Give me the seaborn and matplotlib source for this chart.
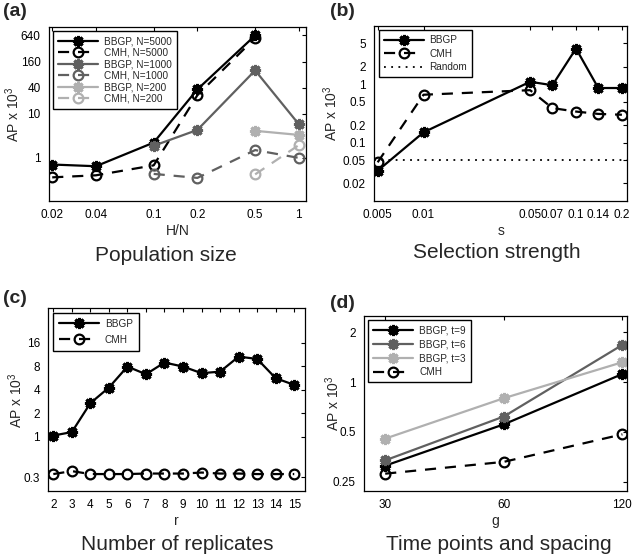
import numpy as np
import pandas as pd
import seaborn as sns
import matplotlib
matplotlib.use("Agg")
import matplotlib.pyplot as plt
from matplotlib.ticker import FixedLocator, FixedFormatter, NullLocator

# ---------------- data ----------------
# (a) Population size
a_x = [0.02, 0.04, 0.1, 0.2, 0.5, 1]
a_bbgp_5000 = [0.69, 0.63, 2.2, 36.7, 635]
a_cmh_5000 = [0.35, 0.39, 0.66, 27, 555]
a_x_1000 = [0.1, 0.2, 0.5, 1]
a_bbgp_1000 = [1.86, 4.3, 100, 5.8]
a_cmh_1000 = [0.42, 0.34, 1.48, 0.98]
a_x_200 = [0.5, 1]
a_bbgp_200 = [4.1, 3.3]
a_cmh_200 = [0.41, 1.93]
a_yticks = [1, 10, 40, 160, 640]

# (b) Selection strength
b_x = [0.005, 0.01, 0.05, 0.07, 0.1, 0.14, 0.2]
b_bbgp = [0.033, 0.15, 1.1, 0.96, 4.07, 0.86, 0.86]
b_cmh = [0.046, 0.66, 0.79, 0.39, 0.34, 0.31, 0.30]
b_random = 0.05
b_yticks = [0.02, 0.05, 0.1, 0.2, 0.5, 1, 2, 5]

# (c) Number of replicates
c_x = list(range(2, 16))
c_bbgp = [1.03, 1.14, 2.68, 4.25, 7.9, 6.3, 8.9, 7.9, 6.5, 6.8, 10.6, 9.9, 5.6, 4.6]
c_cmh = [0.33, 0.36, 0.33, 0.33, 0.33, 0.335, 0.335, 0.335, 0.345, 0.335, 0.335, 0.33, 0.33, 0.33]
c_yticks = [0.3, 1, 2, 4, 8, 16]

# (d) Time points and spacing
d_x = [30, 60, 120]
d_bbgp_t9 = [0.313, 0.556, 1.12]
d_bbgp_t6 = [0.337, 0.62, 1.68]
d_bbgp_t3 = [0.456, 0.80, 1.32]
d_cmh = [0.28, 0.33, 0.484]
d_yticks = [0.25, 0.5, 1, 2]

# ---------------- style ----------------
sns.set_theme(style="white")
plt.rcParams['font.family'] = ['Liberation Sans', 'DejaVu Sans']
plt.rcParams['mathtext.fontset'] = 'custom'
plt.rcParams['mathtext.rm'] = 'Liberation Sans'
plt.rcParams['mathtext.it'] = 'Liberation Sans:italic'
plt.rcParams['mathtext.bf'] = 'Liberation Sans:bold'

BLACK = '#000000'
DARK = '#606060'
LIGHT = '#b0b0b0'
STAR = (8, 2, 0)

fig = plt.figure(figsize=(6.33, 5.60), dpi=100)
ax_a = fig.add_axes([0.0774, 0.641, 0.406, 0.311])
ax_b = fig.add_axes([0.591, 0.641, 0.400, 0.313])
ax_c = fig.add_axes([0.0763, 0.1232, 0.4055, 0.326])
ax_d = fig.add_axes([0.575, 0.1232, 0.416, 0.313])


def draw(ax, x, y, label, color, dashed, star):
    df = pd.DataFrame({'x': x, 'y': y})
    if star:
        kw = dict(marker=STAR, markersize=8, markeredgewidth=2.2,
                  markeredgecolor=color, markerfacecolor=color)
    else:
        kw = dict(marker='o', markersize=7, markeredgewidth=1.6,
                  markeredgecolor=color, markerfacecolor='none')
    kw.update(linewidth=1.6, color=color, label=label)
    if dashed:
        kw['dashes'] = (5, 4)
    sns.lineplot(data=df, x='x', y='y', ax=ax, **kw)


def style_axes(ax, xticks, xlabels, yticks, ylabels, xlim, ylim, xlabel, logx, ylab_x):
    if logx:
        ax.set_xscale('log')
    ax.set_yscale('log')
    ax.set_xlim(*xlim)
    ax.set_ylim(*ylim)
    ax.xaxis.set_major_locator(FixedLocator(xticks))
    ax.xaxis.set_major_formatter(FixedFormatter(xlabels))
    ax.yaxis.set_major_locator(FixedLocator(yticks))
    ax.yaxis.set_major_formatter(FixedFormatter(ylabels))
    ax.xaxis.set_minor_locator(NullLocator())
    ax.yaxis.set_minor_locator(NullLocator())
    ax.tick_params(direction='in', length=3, width=0.8, top=True, right=True,
                   labelsize=8.5, colors='black', pad=6)
    for s in ax.spines.values():
        s.set_visible(True)
        s.set_color('black')
        s.set_linewidth(0.9)
    ax.set_xlabel(xlabel, fontsize=10, labelpad=2)
    ax.set_ylabel('AP x 10$^3$', fontsize=10)
    ax.yaxis.set_label_coords(ylab_x, 0.5)


def legend(ax, spacing=0.15, pad=0.5):
    leg = ax.legend(loc='upper left', fontsize=7.2, handlelength=4.0, frameon=True,
                    fancybox=False, edgecolor='black', framealpha=1,
                    borderpad=pad, labelspacing=spacing, handletextpad=0.6,
                    borderaxespad=0.45)
    leg.get_frame().set_linewidth(1.0)


# (a)
draw(ax_a, a_x[:5], a_bbgp_5000, 'BBGP, N=5000', BLACK, False, True)
draw(ax_a, a_x[:5], a_cmh_5000, 'CMH, N=5000', BLACK, True, False)
draw(ax_a, a_x_1000, a_bbgp_1000, 'BBGP, N=1000', DARK, False, True)
draw(ax_a, a_x_1000, a_cmh_1000, 'CMH, N=1000', DARK, True, False)
draw(ax_a, a_x_200, a_bbgp_200, 'BBGP, N=200', LIGHT, False, True)
draw(ax_a, a_x_200, a_cmh_200, 'CMH, N=200', LIGHT, True, False)
style_axes(ax_a, a_x, ['0.02', '0.04', '0.1', '0.2', '0.5', '1'],
           a_yticks, [str(v) for v in a_yticks], (0.019, 1.12), (0.1, 1000), 'H/N', True, -0.105)
legend(ax_a)

# (b)
draw(ax_b, b_x, b_bbgp, 'BBGP', BLACK, False, True)
draw(ax_b, b_x, b_cmh, 'CMH', BLACK, True, False)
ax_b.axhline(b_random, color='black', linestyle=(0, (1, 3)), linewidth=1.3, label='Random')
style_axes(ax_b, b_x, ['0.005', '0.01', '0.05', '0.07', '0.1', '0.14', '0.2'],
           b_yticks, ['0.02', '0.05', '0.1', '0.2', '0.5', '1', '2', '5'],
           (0.00474, 0.217), (0.01, 10), 's', True, -0.134)
legend(ax_b, spacing=0.35)

# (c)
draw(ax_c, c_x, c_bbgp, 'BBGP', BLACK, False, True)
draw(ax_c, c_x, c_cmh, 'CMH', BLACK, True, False)
style_axes(ax_c, c_x, [str(v) for v in c_x], c_yticks, ['0.3', '1', '2', '4', '8', '16'],
           (1.73, 15.58), (0.2, 44), 'r', False, -0.091)
legend(ax_c, spacing=0.6, pad=0.6)

# (d)
draw(ax_d, d_x, d_bbgp_t9, 'BBGP, t=9', BLACK, False, True)
draw(ax_d, d_x, d_bbgp_t6, 'BBGP, t=6', DARK, False, True)
draw(ax_d, d_x, d_bbgp_t3, 'BBGP, t=3', LIGHT, False, True)
draw(ax_d, d_x, d_cmh, 'CMH', BLACK, True, False)
style_axes(ax_d, d_x, ['30', '60', '120'], d_yticks, ['0.25', '0.5', '1', '2'],
           (26.5, 123.5), (0.22, 2.52), 'g', True, -0.084)
legend(ax_d, spacing=0.4)

# panel letters
for (x, y, t) in [(0.005, 0.995, '(a)'), (0.521, 0.995, '(b)'),
                  (0.005, 0.482, '(c)'), (0.521, 0.473, '(d)')]:
    fig.text(x, y, t, fontsize=14, fontweight='bold', ha='left', va='top')

# panel titles
for (x, y, t) in [(166 / 633, 1 - 256 / 560, 'Population size'),
                  (497 / 633, 1 - 252 / 560, 'Selection strength'),
                  (177 / 633, 1 - 545 / 560, 'Number of replicates'),
                  (499 / 633, 1 - 545 / 560, 'Time points and spacing')]:
    fig.text(x, y, t, fontsize=15, ha='center', va='center')

fig.savefig('out.png', dpi=100)
